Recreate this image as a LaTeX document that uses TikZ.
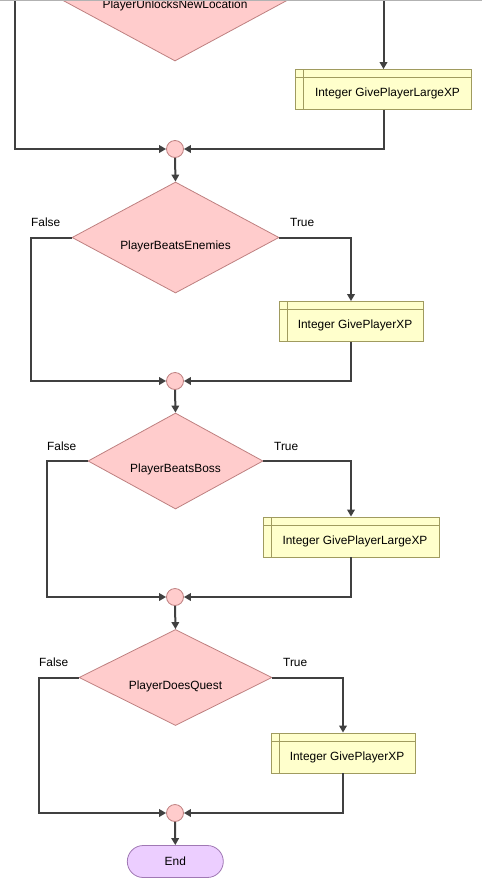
\documentclass[tikz,border=0pt]{standalone}
\usepackage{fontspec}
\setmainfont{Liberation Sans}
\usetikzlibrary{shapes.geometric,arrows.meta}
\definecolor{decfill}{RGB}{255,204,204}
\definecolor{decline}{RGB}{190,128,128}
\definecolor{boxfill}{RGB}{255,255,204}
\definecolor{boxline}{RGB}{160,155,95}
\definecolor{endfill}{RGB}{236,206,255}
\definecolor{endline}{RGB}{160,120,180}
\definecolor{flowgray}{RGB}{64,64,64}
\begin{document}
\begin{tikzpicture}[x=1pt,y=-1pt,font=\fontsize{11.9}{14}\selectfont,
	flow/.style={draw=flowgray,line width=2pt,-{Triangle[length=7pt,width=7.5pt]}},
	decision/.style={diamond,draw=decline,fill=decfill,line width=0.8pt,inner sep=0pt},
	junction/.style={circle,draw=decline,fill=decfill,line width=0.8pt,minimum size=17pt,inner sep=0pt},
	procbox/.style={draw=boxline,fill=boxfill,line width=0.8pt,minimum height=40pt,inner sep=0pt,
		path picture={\draw[boxline,line width=0.8pt]([yshift=-8pt]path picture bounding box.north west)--([yshift=-8pt]path picture bounding box.north east)
			([xshift=8pt]path picture bounding box.north west)--([xshift=8pt]path picture bounding box.south west);}},
	terminal/.style={draw=endline,fill=endfill,line width=0.8pt,rounded corners=16pt,minimum width=96pt,minimum height=32pt},
	lbl/.style={anchor=base west,inner sep=0pt}]
		\useasboundingbox (0,0) rectangle (482,892);
		\clip (0,0) rectangle (482,892);
		\node[decision,minimum width=237pt,minimum height=128pt,label={[yshift=-8.5pt]center:PlayerUnlocksNewLocation}] (d1) at (175,-3) {};
		\node[procbox,minimum width=176pt,label={[xshift=4pt,yshift=-4pt]center:Integer GivePlayerLargeXP}] (b1) at (383.5,89.5) {};
		\node[junction] (c1) at (175,149) {};
		\node[decision,minimum width=207pt,minimum height=111pt,label={[yshift=-8.5pt]center:PlayerBeatsEnemies}] (d2) at (175.5,237.5) {};
		\node[procbox,minimum width=144pt,label={[xshift=4pt,yshift=-4pt]center:Integer GivePlayerXP}] (b2) at (351,321.5) {};
		\node[junction] (c2) at (175,381) {};
		\node[decision,minimum width=175pt,minimum height=96pt,label={[yshift=-8.5pt]center:PlayerBeatsBoss}] (d3) at (175.5,461) {};
		\node[procbox,minimum width=176pt,label={[xshift=4pt,yshift=-4pt]center:Integer GivePlayerLargeXP}] (b3) at (351,537) {};
		\node[junction] (c3) at (175,597) {};
		\node[decision,minimum width=193pt,minimum height=96pt,label={[yshift=-8.5pt]center:PlayerDoesQuest}] (d4) at (175.5,677.5) {};
		\node[procbox,minimum width=144pt,label={[xshift=4pt,yshift=-4pt]center:Integer GivePlayerXP}] (b4) at (343,753) {};
		\node[junction] (c4) at (175,813) {};
		\node[terminal] (end) at (175.3,861.5) {End};
		\node[lbl] (f2) at (31,226) {False};
		\node[lbl] (t2) at (290,226) {True};
		\node[lbl] (f3) at (47,450) {False};
		\node[lbl] (t3) at (274,450) {True};
		\node[lbl] (f4) at (39,666) {False};
		\node[lbl] (t4) at (283,666) {True};
		\draw[flow] (d1.west) -- ++(-41.5,0) |- (c1.west);
		\draw[flow] (d1.east) -| (b1.north);
		\draw[flow] (b1.south) |- (c1.east);
		\draw[flow] (c1.south) -- (d2.north);
		\draw[flow] (d2.west) -- ++(-41,0) |- (c2.west);
		\draw[flow] (d2.east) -| (b2.north);
		\draw[flow] (b2.south) |- (c2.east);
		\draw[flow] (c2.south) -- (d3.north);
		\draw[flow] (d3.west) -- ++(-40.5,0) |- (c3.west);
		\draw[flow] (d3.east) -| (b3.north);
		\draw[flow] (b3.south) |- (c3.east);
		\draw[flow] (c3.south) -- (d4.north);
		\draw[flow] (d4.west) -- ++(-40,0) |- (c4.west);
		\draw[flow] (d4.east) -| (b4.north);
		\draw[flow] (b4.south) |- (c4.east);
		\draw[flow] (c4.south) -- (end.north);
		\draw[gray!60,line width=1pt] (0,0.5) -- (482,0.5);
	\end{tikzpicture}
\end{document}
